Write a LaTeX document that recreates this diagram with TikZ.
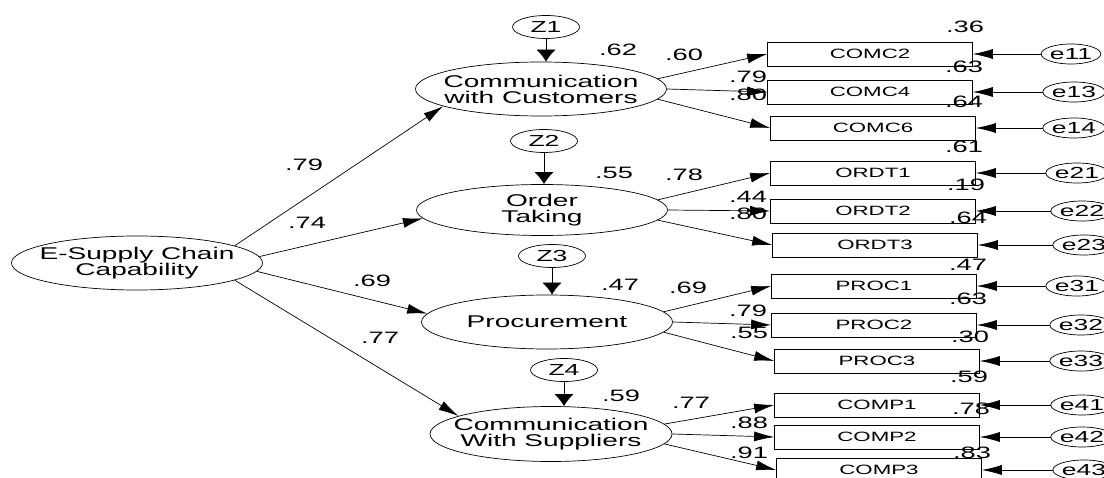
\documentclass[tikz,border=0pt]{standalone}
\usepackage{fontspec}
\setmainfont{Liberation Sans}[FakeStretch=1.65]
\usetikzlibrary{shapes.geometric,arrows.meta}

\begin{document}
\begin{tikzpicture}[x=1pt, y=-1pt, line width=0.7pt,
  latent/.style = {draw, ellipse, inner xsep=-30pt, inner ysep=-8pt, minimum width=251pt, minimum height=54pt, align=center, font=\fontsize{17}{16}\selectfont},
  dist/.style = {draw, ellipse, inner sep=0pt, minimum width=67pt, minimum height=23pt, font=\fontsize{16}{16}\selectfont},
  err/.style = {draw, ellipse, inner sep=0pt, minimum width=58pt, minimum height=20pt, font=\fontsize{16}{16}\selectfont},
  obs/.style = {draw, rectangle, inner sep=0pt, minimum width=205pt, minimum height=24pt, font=\fontsize{13.5}{13.5}\selectfont},
  num/.style = {inner sep=0pt, font=\fontsize{16.5}{16.5}\selectfont},
  arr/.style = {-{Latex[length=20pt,width=10pt]}},
  darr/.style = {-{Latex[length=12pt,width=19pt]}}]
\useasboundingbox (0,0) rectangle (1104,478);
\clip (0,0) rectangle (1104,478);
\fill[white] (0,0) rectangle (1104,478);

% latent variables
\node[latent] (esc) at (137,263) {E-Supply Chain\\Capability};
\node[latent] (cwc) at (541,89) {Communication\\with Customers};
\node[latent, minimum height=51pt] (ot) at (542,210) {Order\\Taking};
\node[latent] (proc) at (547,322) {Procurement};
\node[latent, minimum width=242pt, minimum height=55pt] (cws) at (551,434) {Communication\\With Suppliers};

% disturbances
\node[dist] (z1) at (546,27) {Z1};
\node[dist] (z2) at (544,141) {Z2};
\node[dist] (z3) at (552,256) {Z3};
\node[dist] (z4) at (564,370) {Z4};

% indicators
\node[obs] (comc2) at (870,54) {COMC2};
\node[obs] (comc4) at (870,92) {COMC4};
\node[obs] (comc6) at (873,128) {COMC6};
\node[obs] (ordt1) at (873,173) {ORDT1};
\node[obs] (ordt2) at (873,211) {ORDT2};
\node[obs] (ordt3) at (875,245) {ORDT3};
\node[obs] (proc1) at (874,286) {PROC1};
\node[obs] (proc2) at (874,325) {PROC2};
\node[obs] (proc3) at (877,361) {PROC3};
\node[obs] (comp1) at (877,405) {COMP1};
\node[obs] (comp2) at (877,437) {COMP2};
\node[obs] (comp3) at (879,470) {COMP3};

% errors
\node[err] (e11) at (1071,54) {e11};
\node[err] (e13) at (1074,92) {e13};
\node[err] (e14) at (1074,128) {e14};
\node[err] (e21) at (1077,173) {e21};
\node[err] (e22) at (1082,211) {e22};
\node[err] (e23) at (1084,245) {e23};
\node[err] (e31) at (1077,286) {e31};
\node[err] (e32) at (1081,325) {e32};
\node[err] (e33) at (1081,361) {e33};
\node[err] (e41) at (1082,405) {e41};
\node[err] (e42) at (1082,437) {e42};
\node[err] (e43) at (1084,470) {e43};

% structural paths
\draw[arr] (esc.10) -- (cwc.190);
\draw[arr] (esc.3) -- (ot.184);
\draw[arr] (esc.356) -- (proc.176);
\draw[arr] (esc.350) -- (cws.169);
\draw[darr] (z1) -- (z1 |- cwc.north);
\draw[darr] (z2) -- (z2 |- ot.north);
\draw[darr] (z3) -- (z3 |- proc.north);
\draw[darr] (z4) -- (z4 |- cws.north);

% loadings
\draw[arr] (cwc.5) -- (comc2.west);
\draw[arr] (cwc.0) -- (comc4.west);
\draw[arr] (cwc.355) -- (comc6.west);
\draw[arr] (ot.5) -- (ordt1.west);
\draw[arr] (ot.0) -- (ordt2.west);
\draw[arr] (ot.355) -- (ordt3.west);
\draw[arr] (proc.5) -- (proc1.west);
\draw[arr] (proc.0) -- (proc2.west);
\draw[arr] (proc.355) -- (proc3.west);
\draw[arr] (cws.5) -- (comp1.west);
\draw[arr] (cws.0) -- (comp2.west);
\draw[arr] (cws.355) -- (comp3.west);

% error paths
\foreach \e/\b in {e11/comc2, e13/comc4, e14/comc6, e21/ordt1, e22/ordt2, e23/ordt3,
                   e31/proc1, e32/proc2, e33/proc3, e41/comp1, e42/comp2, e43/comp3}
  \draw[arr] (\e) -- (\b.east);

% estimates
\node[num] (g1) at (304,165) {.79};
\node[num] (g2) at (307,223) {.74};
\node[num] (g3) at (372,281) {.69};
\node[num] (g4) at (380,338) {.77};
\node[num] (r1) at (618,50) {.62};
\node[num] (r2) at (614,173) {.55};
\node[num] (r3) at (620,285) {.47};
\node[num] (r4) at (621,396) {.59};
\node[num] (l11) at (684,55) {.60};
\node[num] (l12) at (748,77) {.79};
\node[num] (l13) at (748,95) {.80};
\node[num] (l21) at (684,175) {.78};
\node[num] (l22) at (748,197) {.44};
\node[num] (l23) at (748,214) {.80};
\node[num] (l31) at (688,288) {.69};
\node[num] (l32) at (748,311) {.79};
\node[num] (l33) at (749,333) {.55};
\node[num] (l41) at (691,403) {.77};
\node[num] (l42) at (749,423) {.88};
\node[num] (l43) at (749,453) {.91};
\node[num] (s1) at (965,27) {.36};
\node[num] (s2) at (964,67) {.63};
\node[num] (s3) at (964,102) {.64};
\node[num] (s4) at (964,147) {.61};
\node[num] (s5) at (966,185) {.19};
\node[num] (s6) at (968,218) {.64};
\node[num] (s7) at (968,265) {.47};
\node[num] (s8) at (968,299) {.63};
\node[num] (s9) at (970,337) {.30};
\node[num] (s10) at (969,377) {.59};
\node[num] (s11) at (971,409) {.78};
\node[num] (s12) at (972,453) {.83};
\end{tikzpicture}
\end{document}
